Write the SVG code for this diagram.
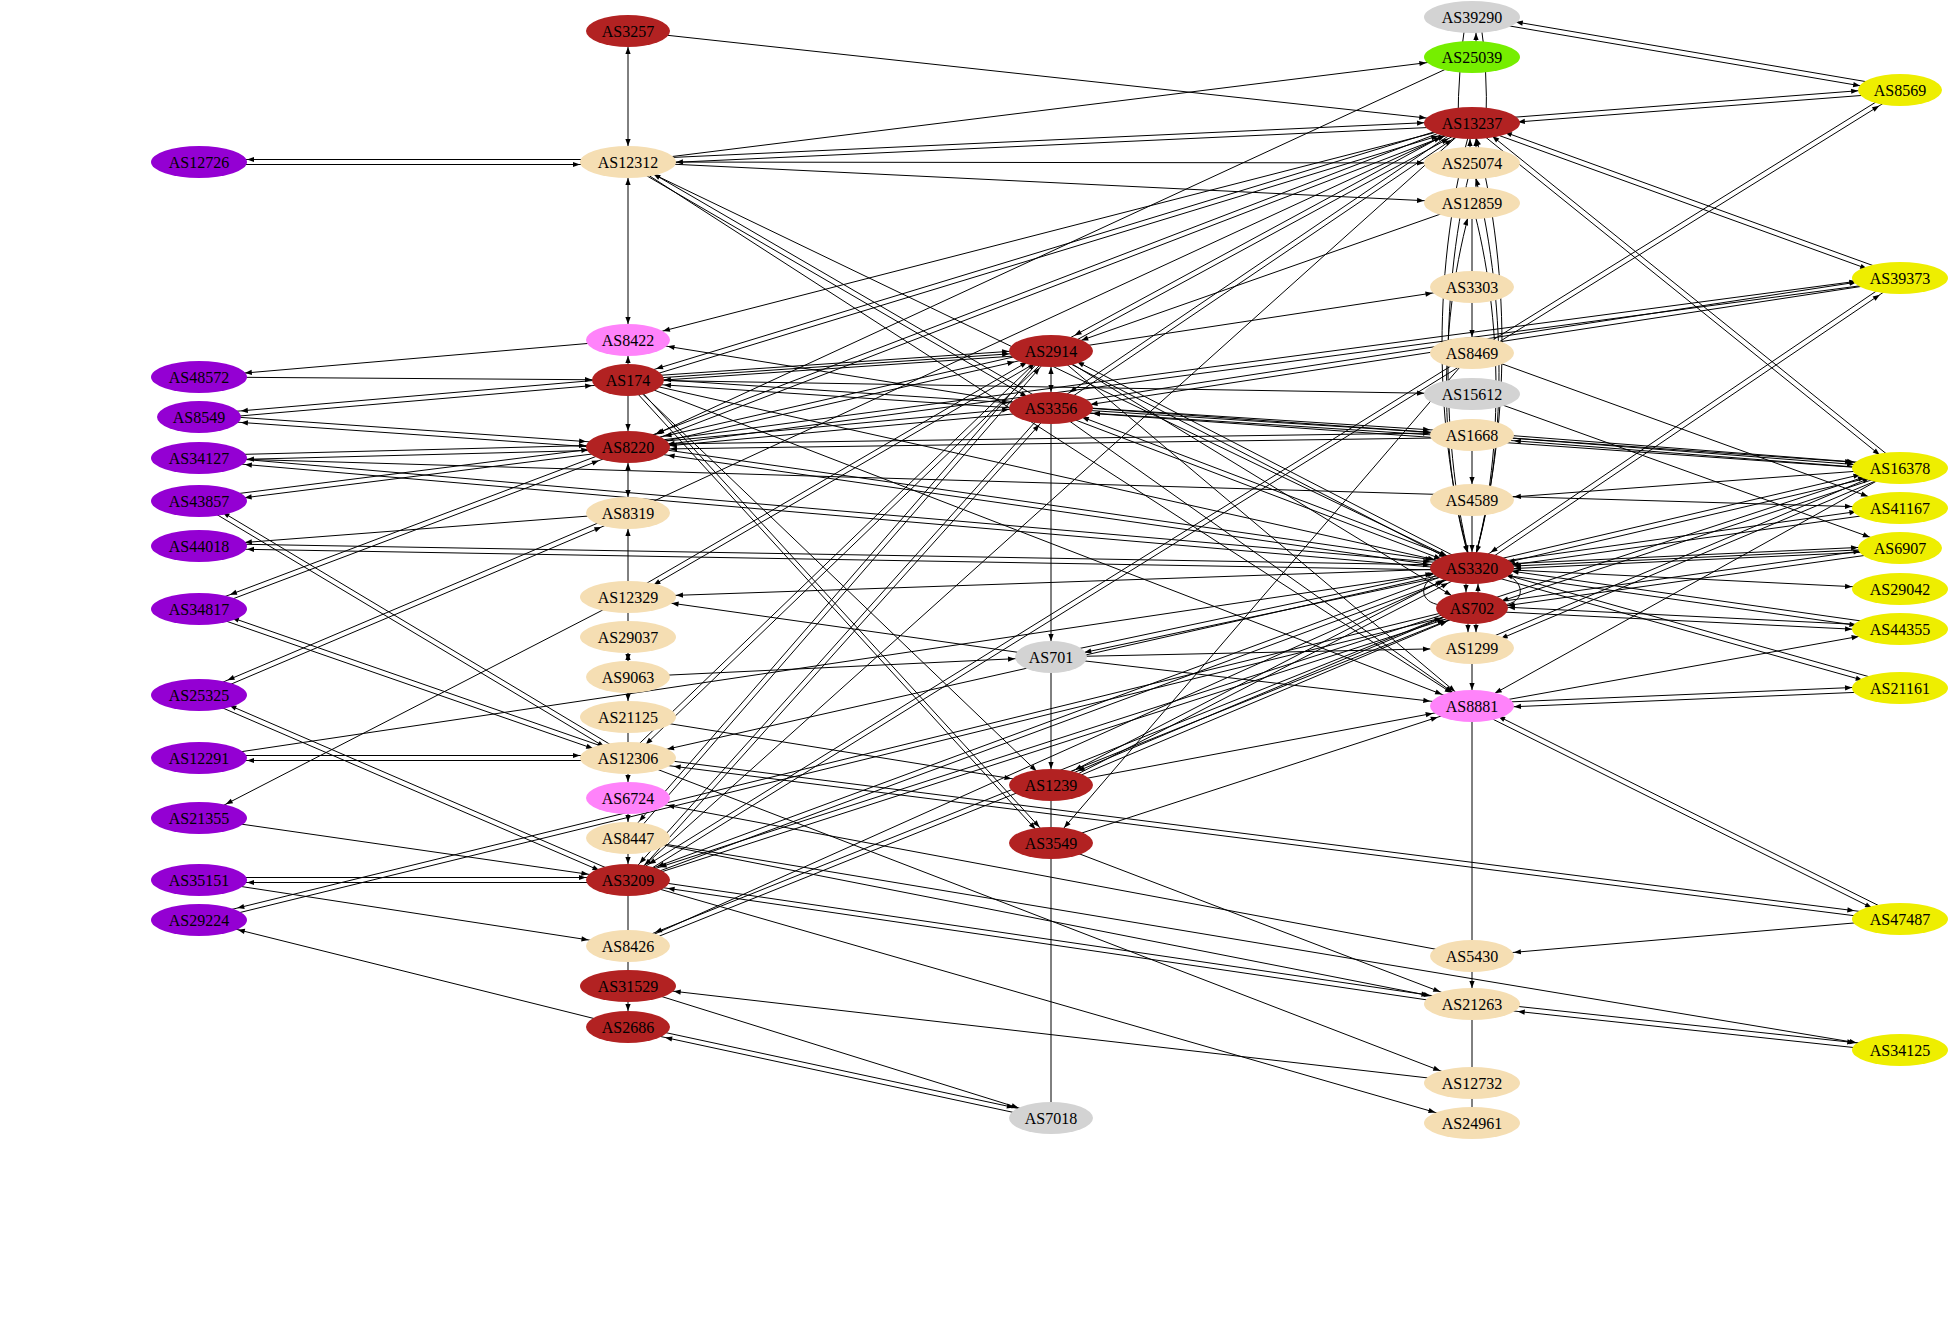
<svg xmlns="http://www.w3.org/2000/svg" width="1950" height="1317" viewBox="0 0 1950 1317">
<style>
.e{stroke:#000;stroke-width:1;fill:none}
.n text{font-family:"Liberation Serif","Times New Roman",serif;font-size:16px;text-anchor:middle;fill:#000}
.red{fill:#b22222}.wh{fill:#f5deb3}.gy{fill:#d3d3d3}.pu{fill:#9400d3}.ye{fill:#eeee00}.pk{fill:#ff83fa}.gr{fill:#76ee00}
</style>
<defs>
<marker id="m0" markerUnits="userSpaceOnUse" viewBox="0 0 60 10" refX="60" refY="5" markerWidth="60" markerHeight="10" orient="auto-start-reverse"><path d="M60,5 L53,2.4 L53,7.6 z"/></marker>
<marker id="m16" markerUnits="userSpaceOnUse" viewBox="0 0 60 10" refX="60" refY="5" markerWidth="60" markerHeight="10" orient="auto-start-reverse"><path d="M44,5 L37,2.4 L37,7.6 z"/></marker>
<marker id="m20" markerUnits="userSpaceOnUse" viewBox="0 0 60 10" refX="60" refY="5" markerWidth="60" markerHeight="10" orient="auto-start-reverse"><path d="M40,5 L33,2.4 L33,7.6 z"/></marker>
<marker id="m22" markerUnits="userSpaceOnUse" viewBox="0 0 60 10" refX="60" refY="5" markerWidth="60" markerHeight="10" orient="auto-start-reverse"><path d="M38,5 L31,2.4 L31,7.6 z"/></marker>
<marker id="m24" markerUnits="userSpaceOnUse" viewBox="0 0 60 10" refX="60" refY="5" markerWidth="60" markerHeight="10" orient="auto-start-reverse"><path d="M36,5 L29,2.4 L29,7.6 z"/></marker>
<marker id="m26" markerUnits="userSpaceOnUse" viewBox="0 0 60 10" refX="60" refY="5" markerWidth="60" markerHeight="10" orient="auto-start-reverse"><path d="M34,5 L27,2.4 L27,7.6 z"/></marker>
<marker id="m28" markerUnits="userSpaceOnUse" viewBox="0 0 60 10" refX="60" refY="5" markerWidth="60" markerHeight="10" orient="auto-start-reverse"><path d="M32,5 L25,2.4 L25,7.6 z"/></marker>
<marker id="m30" markerUnits="userSpaceOnUse" viewBox="0 0 60 10" refX="60" refY="5" markerWidth="60" markerHeight="10" orient="auto-start-reverse"><path d="M30,5 L23,2.4 L23,7.6 z"/></marker>
<marker id="m32" markerUnits="userSpaceOnUse" viewBox="0 0 60 10" refX="60" refY="5" markerWidth="60" markerHeight="10" orient="auto-start-reverse"><path d="M28,5 L21,2.4 L21,7.6 z"/></marker>
<marker id="m34" markerUnits="userSpaceOnUse" viewBox="0 0 60 10" refX="60" refY="5" markerWidth="60" markerHeight="10" orient="auto-start-reverse"><path d="M26,5 L19,2.4 L19,7.6 z"/></marker>
<marker id="m36" markerUnits="userSpaceOnUse" viewBox="0 0 60 10" refX="60" refY="5" markerWidth="60" markerHeight="10" orient="auto-start-reverse"><path d="M24,5 L17,2.4 L17,7.6 z"/></marker>
<marker id="m38" markerUnits="userSpaceOnUse" viewBox="0 0 60 10" refX="60" refY="5" markerWidth="60" markerHeight="10" orient="auto-start-reverse"><path d="M22,5 L15,2.4 L15,7.6 z"/></marker>
<marker id="m40" markerUnits="userSpaceOnUse" viewBox="0 0 60 10" refX="60" refY="5" markerWidth="60" markerHeight="10" orient="auto-start-reverse"><path d="M20,5 L13,2.4 L13,7.6 z"/></marker>
<marker id="m42" markerUnits="userSpaceOnUse" viewBox="0 0 60 10" refX="60" refY="5" markerWidth="60" markerHeight="10" orient="auto-start-reverse"><path d="M18,5 L11,2.4 L11,7.6 z"/></marker>
<marker id="m44" markerUnits="userSpaceOnUse" viewBox="0 0 60 10" refX="60" refY="5" markerWidth="60" markerHeight="10" orient="auto-start-reverse"><path d="M16,5 L9,2.4 L9,7.6 z"/></marker>
<marker id="m46" markerUnits="userSpaceOnUse" viewBox="0 0 60 10" refX="60" refY="5" markerWidth="60" markerHeight="10" orient="auto-start-reverse"><path d="M14,5 L7,2.4 L7,7.6 z"/></marker>
<marker id="m48" markerUnits="userSpaceOnUse" viewBox="0 0 60 10" refX="60" refY="5" markerWidth="60" markerHeight="10" orient="auto-start-reverse"><path d="M12,5 L5,2.4 L5,7.6 z"/></marker>
</defs>
<rect width="1950" height="1317" fill="#fff"/>
<g id="edges" class="e">
<line x1="628" y1="159.5" x2="199" y2="159.5" marker-end="url(#m48)"/>
<line x1="199" y1="164.5" x2="628" y2="164.5" marker-end="url(#m48)"/>
<line x1="628" y1="340" x2="199" y2="377" marker-end="url(#m46)"/>
<line x1="199" y1="377" x2="628" y2="380" marker-end="url(#m36)"/>
<line x1="628" y1="377.5" x2="199" y2="414.5" marker-end="url(#m42)"/>
<line x1="199" y1="419.5" x2="628" y2="382.5" marker-end="url(#m36)"/>
<line x1="199" y1="414.5" x2="628" y2="444.5" marker-end="url(#m42)"/>
<line x1="628" y1="449.5" x2="199" y2="419.5" marker-end="url(#m42)"/>
<line x1="199" y1="455.5" x2="628" y2="444.5" marker-end="url(#m42)"/>
<line x1="628" y1="449.5" x2="199" y2="460.5" marker-end="url(#m48)"/>
<line x1="199" y1="455.5" x2="1472" y2="565.5" marker-end="url(#m42)"/>
<line x1="1472" y1="570.5" x2="199" y2="460.5" marker-end="url(#m46)"/>
<line x1="199" y1="498.5" x2="628" y2="444.5" marker-end="url(#m40)"/>
<line x1="628" y1="449.5" x2="199" y2="503.5" marker-end="url(#m46)"/>
<line x1="197.7" y1="503.1" x2="626.7" y2="760.1" marker-end="url(#m26)"/>
<line x1="629.3" y1="755.9" x2="200.3" y2="498.9" marker-end="url(#m26)"/>
<line x1="628" y1="513" x2="199" y2="546" marker-end="url(#m46)"/>
<line x1="199" y1="543.5" x2="1472" y2="565.5" marker-end="url(#m42)"/>
<line x1="1472" y1="570.5" x2="199" y2="548.5" marker-end="url(#m48)"/>
<line x1="199.9" y1="611.3" x2="628.9" y2="449.3" marker-end="url(#m32)"/>
<line x1="627.1" y1="444.7" x2="198.1" y2="606.7" marker-end="url(#m34)"/>
<line x1="198.2" y1="611.4" x2="627.2" y2="760.4" marker-end="url(#m36)"/>
<line x1="628.8" y1="755.6" x2="199.8" y2="606.6" marker-end="url(#m34)"/>
<line x1="200" y1="697.3" x2="629" y2="515.3" marker-end="url(#m30)"/>
<line x1="627" y1="510.7" x2="198" y2="692.7" marker-end="url(#m32)"/>
<line x1="198" y1="697.3" x2="627" y2="882.3" marker-end="url(#m30)"/>
<line x1="629" y1="877.7" x2="200" y2="692.7" marker-end="url(#m32)"/>
<line x1="199" y1="755.5" x2="628" y2="755.5" marker-end="url(#m48)"/>
<line x1="628" y1="760.5" x2="199" y2="760.5" marker-end="url(#m48)"/>
<line x1="199" y1="758" x2="1472" y2="568" marker-end="url(#m40)"/>
<line x1="628" y1="597" x2="199" y2="818" marker-end="url(#m30)"/>
<line x1="199" y1="818" x2="628" y2="880" marker-end="url(#m40)"/>
<line x1="199" y1="877.5" x2="628" y2="877.5" marker-end="url(#m42)"/>
<line x1="628" y1="882.5" x2="199" y2="882.5" marker-end="url(#m48)"/>
<line x1="199" y1="880" x2="628" y2="946" marker-end="url(#m40)"/>
<line x1="199.6" y1="922.4" x2="1472.6" y2="610.4" marker-end="url(#m32)"/>
<line x1="1471.4" y1="605.6" x2="198.4" y2="917.6" marker-end="url(#m40)"/>
<line x1="628" y1="1027" x2="199" y2="920" marker-end="url(#m40)"/>
<line x1="628" y1="31" x2="628" y2="162" marker-start="url(#m16)" marker-end="url(#m16)"/>
<line x1="628" y1="162" x2="628" y2="340" marker-start="url(#m16)" marker-end="url(#m16)"/>
<line x1="628" y1="380" x2="628" y2="340" marker-end="url(#m16)"/>
<line x1="628" y1="380" x2="628" y2="447" marker-end="url(#m16)"/>
<line x1="628" y1="447" x2="628" y2="513" marker-start="url(#m16)" marker-end="url(#m16)"/>
<line x1="628" y1="597" x2="628" y2="513" marker-end="url(#m16)"/>
<line x1="628" y1="597" x2="628" y2="637"/>
<line x1="628" y1="637" x2="628" y2="677" marker-start="url(#m16)" marker-end="url(#m16)"/>
<line x1="628" y1="677" x2="628" y2="717" marker-end="url(#m16)"/>
<line x1="628" y1="717" x2="628" y2="758"/>
<line x1="628" y1="758" x2="628" y2="798" marker-end="url(#m16)"/>
<line x1="628" y1="798" x2="628" y2="838" marker-end="url(#m16)"/>
<line x1="628" y1="838" x2="628" y2="880" marker-end="url(#m16)"/>
<line x1="628" y1="880" x2="628" y2="986"/>
<line x1="628" y1="986" x2="628" y2="1027" marker-end="url(#m16)"/>
<line x1="628" y1="31" x2="1472" y2="123" marker-end="url(#m46)"/>
<line x1="628" y1="162" x2="1472" y2="57" marker-end="url(#m46)"/>
<line x1="628" y1="159.5" x2="1472" y2="120.5" marker-end="url(#m48)"/>
<line x1="1472" y1="125.5" x2="628" y2="164.5" marker-end="url(#m48)"/>
<line x1="628" y1="162" x2="1472" y2="163" marker-end="url(#m48)"/>
<line x1="628" y1="162" x2="1472" y2="203" marker-end="url(#m48)"/>
<line x1="626.75" y1="164.15" x2="1049.75" y2="410.15" marker-end="url(#m26)"/>
<line x1="1052.25" y1="405.85" x2="629.25" y2="159.85" marker-end="url(#m28)"/>
<line x1="628" y1="162" x2="1472" y2="568" marker-end="url(#m28)"/>
<line x1="628" y1="162" x2="1472" y2="706" marker-end="url(#m24)"/>
<line x1="1472" y1="123" x2="628" y2="340" marker-end="url(#m36)"/>
<line x1="1051" y1="408" x2="628" y2="340" marker-end="url(#m40)"/>
<line x1="628" y1="377.5" x2="1051" y2="348.5" marker-end="url(#m42)"/>
<line x1="1051" y1="353.5" x2="628" y2="382.5" marker-end="url(#m36)"/>
<line x1="628" y1="380" x2="1051" y2="351" marker-end="url(#m42)"/>
<line x1="628.7" y1="382.4" x2="1472.7" y2="125.4" marker-end="url(#m36)"/>
<line x1="1471.3" y1="120.6" x2="627.3" y2="377.6" marker-end="url(#m30)"/>
<line x1="628" y1="380" x2="1472" y2="394" marker-end="url(#m48)"/>
<line x1="628" y1="377.5" x2="1051" y2="405.5" marker-end="url(#m42)"/>
<line x1="1051" y1="410.5" x2="628" y2="382.5" marker-end="url(#m36)"/>
<line x1="628" y1="380" x2="1051" y2="785" marker-end="url(#m20)"/>
<line x1="626" y1="381" x2="1049" y2="844" marker-end="url(#m20)"/>
<line x1="630" y1="379" x2="1053" y2="842" marker-end="url(#m20)"/>
<line x1="628" y1="380" x2="1472" y2="568" marker-end="url(#m38)"/>
<line x1="628" y1="380" x2="1472" y2="706" marker-end="url(#m32)"/>
<line x1="628.55" y1="449.45" x2="1051.55" y2="353.45" marker-end="url(#m38)"/>
<line x1="1050.45" y1="348.55" x2="627.45" y2="444.55" marker-end="url(#m38)"/>
<line x1="628" y1="444.5" x2="1051" y2="405.5" marker-end="url(#m42)"/>
<line x1="1051" y1="410.5" x2="628" y2="449.5" marker-end="url(#m42)"/>
<line x1="628.9" y1="449.3" x2="1472.9" y2="125.3" marker-end="url(#m34)"/>
<line x1="1471.1" y1="120.7" x2="627.1" y2="444.7" marker-end="url(#m32)"/>
<line x1="628" y1="444.5" x2="1472" y2="432.5" marker-end="url(#m42)"/>
<line x1="1472" y1="437.5" x2="628" y2="449.5" marker-end="url(#m42)"/>
<line x1="628" y1="444.5" x2="1472" y2="565.5" marker-end="url(#m40)"/>
<line x1="1472" y1="570.5" x2="628" y2="449.5" marker-end="url(#m40)"/>
<line x1="628" y1="444.5" x2="1900" y2="275.5" marker-end="url(#m44)"/>
<line x1="1900" y1="280.5" x2="628" y2="449.5" marker-end="url(#m40)"/>
<line x1="1472" y1="57" x2="628" y2="447" marker-end="url(#m30)"/>
<line x1="199" y1="458" x2="1900" y2="508" marker-end="url(#m48)"/>
<line x1="628" y1="513" x2="1472" y2="123" marker-end="url(#m30)"/>
<line x1="1052.25" y1="353.15" x2="629.25" y2="599.15" marker-end="url(#m28)"/>
<line x1="626.75" y1="594.85" x2="1049.75" y2="348.85" marker-end="url(#m26)"/>
<line x1="1472" y1="568" x2="628" y2="597" marker-end="url(#m48)"/>
<line x1="1051" y1="657" x2="628" y2="597" marker-end="url(#m44)"/>
<line x1="628" y1="677" x2="1051" y2="657" marker-end="url(#m36)"/>
<line x1="628" y1="717" x2="1051" y2="785" marker-end="url(#m40)"/>
<line x1="1052.8" y1="352.75" x2="629.8" y2="759.75" marker-end="url(#m22)"/>
<line x1="626.2" y1="756.25" x2="1049.2" y2="349.25" marker-end="url(#m20)"/>
<line x1="1472" y1="568" x2="628" y2="758" marker-end="url(#m40)"/>
<line x1="628" y1="755.5" x2="1900" y2="916.5" marker-end="url(#m46)"/>
<line x1="1900" y1="921.5" x2="628" y2="760.5" marker-end="url(#m46)"/>
<line x1="628" y1="758" x2="1472" y2="1083" marker-end="url(#m34)"/>
<line x1="1472" y1="956" x2="628" y2="798" marker-end="url(#m40)"/>
<line x1="629.9" y1="839.65" x2="1052.9" y2="352.65" marker-end="url(#m20)"/>
<line x1="1049.1" y1="349.35" x2="626.1" y2="836.35" marker-end="url(#m20)"/>
<line x1="628" y1="838" x2="1472" y2="1004" marker-end="url(#m42)"/>
<line x1="628" y1="838" x2="1900" y2="1050" marker-end="url(#m44)"/>
<line x1="629.85" y1="881.65" x2="1052.85" y2="409.65" marker-end="url(#m20)"/>
<line x1="1049.15" y1="406.35" x2="626.15" y2="878.35" marker-end="url(#m20)"/>
<line x1="1472" y1="123" x2="628" y2="880" marker-end="url(#m22)"/>
<line x1="629.3" y1="882.1" x2="1901.3" y2="92.1" marker-end="url(#m26)"/>
<line x1="1898.7" y1="87.9" x2="626.7" y2="877.9" marker-end="url(#m26)"/>
<line x1="628.9" y1="882.35" x2="1472.9" y2="570.35" marker-end="url(#m32)"/>
<line x1="1471.1" y1="565.65" x2="627.1" y2="877.65" marker-end="url(#m32)"/>
<line x1="628.8" y1="882.4" x2="1472.8" y2="610.4" marker-end="url(#m30)"/>
<line x1="1471.2" y1="605.6" x2="627.2" y2="877.6" marker-end="url(#m34)"/>
<line x1="628" y1="877.5" x2="1472" y2="1001.5" marker-end="url(#m44)"/>
<line x1="1472" y1="1006.5" x2="628" y2="882.5" marker-end="url(#m40)"/>
<line x1="628" y1="880" x2="1472" y2="1123" marker-end="url(#m38)"/>
<line x1="628.9" y1="948.3" x2="1472.9" y2="610.3" marker-end="url(#m28)"/>
<line x1="1471.1" y1="605.7" x2="627.1" y2="943.7" marker-end="url(#m30)"/>
<line x1="628" y1="946" x2="1472" y2="568" marker-end="url(#m30)"/>
<line x1="1472" y1="1083" x2="628" y2="986" marker-end="url(#m46)"/>
<line x1="628" y1="986" x2="1051" y2="1118" marker-end="url(#m34)"/>
<line x1="628" y1="1024.5" x2="1051" y2="1115.5" marker-end="url(#m38)"/>
<line x1="1051" y1="1120.5" x2="628" y2="1029.5" marker-end="url(#m38)"/>
<line x1="1051" y1="351" x2="1051" y2="408" marker-start="url(#m16)" marker-end="url(#m16)"/>
<line x1="1051" y1="408" x2="1051" y2="657" marker-end="url(#m16)"/>
<line x1="1051" y1="657" x2="1051" y2="785" marker-end="url(#m16)"/>
<line x1="1051" y1="785" x2="1051" y2="1118"/>
<line x1="1051" y1="351" x2="1472" y2="287" marker-end="url(#m40)"/>
<line x1="1472" y1="203" x2="1051" y2="351" marker-end="url(#m32)"/>
<line x1="1052.1" y1="353.25" x2="1473.1" y2="125.25" marker-end="url(#m28)"/>
<line x1="1470.9" y1="120.75" x2="1049.9" y2="348.75" marker-end="url(#m28)"/>
<line x1="1049.85" y1="353.2" x2="1470.85" y2="570.2" marker-end="url(#m28)"/>
<line x1="1473.15" y1="565.8" x2="1052.15" y2="348.8" marker-end="url(#m28)"/>
<line x1="1051" y1="351" x2="1472" y2="608" marker-end="url(#m24)"/>
<line x1="1051" y1="351" x2="1472" y2="706" marker-end="url(#m22)"/>
<line x1="1052.4" y1="410.05" x2="1473.4" y2="125.05" marker-end="url(#m26)"/>
<line x1="1470.6" y1="120.95" x2="1049.6" y2="405.95" marker-end="url(#m24)"/>
<line x1="1051" y1="405.5" x2="1472" y2="432.5" marker-end="url(#m42)"/>
<line x1="1472" y1="437.5" x2="1051" y2="410.5" marker-end="url(#m42)"/>
<line x1="1051" y1="408" x2="1472" y2="435" marker-end="url(#m42)"/>
<line x1="1051" y1="405.5" x2="1900" y2="275.5" marker-end="url(#m44)"/>
<line x1="1900" y1="280.5" x2="1051" y2="410.5" marker-end="url(#m40)"/>
<line x1="1050.1" y1="410.35" x2="1471.1" y2="570.35" marker-end="url(#m32)"/>
<line x1="1472.9" y1="565.65" x2="1051.9" y2="405.65" marker-end="url(#m32)"/>
<line x1="1051" y1="408" x2="1472" y2="706" marker-end="url(#m24)"/>
<line x1="1051" y1="405.5" x2="1900" y2="465.5" marker-end="url(#m48)"/>
<line x1="1900" y1="470.5" x2="1051" y2="410.5" marker-end="url(#m42)"/>
<line x1="1051" y1="654.5" x2="1472" y2="565.5" marker-end="url(#m38)"/>
<line x1="1472" y1="570.5" x2="1051" y2="659.5" marker-end="url(#m34)"/>
<line x1="1051" y1="657" x2="1472" y2="648" marker-end="url(#m42)"/>
<line x1="1051" y1="657" x2="1472" y2="706" marker-end="url(#m42)"/>
<line x1="1052.15" y1="787.2" x2="1473.15" y2="570.2" marker-end="url(#m28)"/>
<line x1="1470.85" y1="565.8" x2="1049.85" y2="782.8" marker-end="url(#m28)"/>
<line x1="1051" y1="785" x2="1472" y2="706" marker-end="url(#m40)"/>
<line x1="1051.95" y1="787.3" x2="1472.95" y2="610.3" marker-end="url(#m28)"/>
<line x1="1471.05" y1="605.7" x2="1050.05" y2="782.7" marker-end="url(#m30)"/>
<line x1="1051" y1="843" x2="1472" y2="1004" marker-end="url(#m34)"/>
<line x1="1472" y1="353" x2="1051" y2="843" marker-end="url(#m20)"/>
<line x1="1051" y1="843" x2="1472" y2="706" marker-end="url(#m36)"/>
<line x1="1476" y1="57" x2="1476" y2="17" marker-end="url(#m16)"/>
<path d="M1466,17 Q1458,70 1458,123"/>
<path d="M1480,17 Q1488,70 1486,123"/>
<line x1="1470" y1="163" x2="1470" y2="123" marker-end="url(#m16)"/>
<line x1="1476" y1="203" x2="1476" y2="123" marker-end="url(#m16)"/>
<path d="M1472,123 C1432,260 1432,430 1472,568" marker-end="url(#m16)"/>
<path d="M1472,568 C1512,430 1512,260 1472,123" marker-end="url(#m16)"/>
<path d="M1472,163 C1440,280 1440,450 1472,568" marker-end="url(#m16)"/>
<path d="M1472,203 C1504,320 1504,460 1472,568" marker-end="url(#m16)"/>
<path d="M1472,568 C1508,450 1508,300 1472,163" marker-end="url(#m16)"/>
<path d="M1472,568 C1438,460 1438,320 1472,203" marker-end="url(#m16)"/>
<line x1="1472" y1="203" x2="1472" y2="353" marker-end="url(#m16)"/>
<line x1="1472" y1="435" x2="1472" y2="500" marker-end="url(#m16)"/>
<line x1="1472" y1="500" x2="1472" y2="568" marker-end="url(#m16)"/>
<line x1="1466" y1="568" x2="1466" y2="608" marker-end="url(#m16)"/>
<line x1="1478" y1="608" x2="1478" y2="568" marker-end="url(#m16)"/>
<path d="M1436,575 C1418,585 1420,602 1440,605"/>
<path d="M1508,575 C1526,585 1524,602 1504,605"/>
<line x1="1468" y1="608" x2="1468" y2="648" marker-end="url(#m16)"/>
<line x1="1476" y1="608" x2="1476" y2="648" marker-end="url(#m16)"/>
<line x1="1472" y1="648" x2="1472" y2="706" marker-end="url(#m16)"/>
<line x1="1472" y1="706" x2="1472" y2="956"/>
<line x1="1472" y1="956" x2="1472" y2="1004" marker-end="url(#m16)"/>
<line x1="1472" y1="1004" x2="1472" y2="1123"/>
<line x1="1471.6" y1="19.5" x2="1899.6" y2="92.5" marker-end="url(#m40)"/>
<line x1="1900.4" y1="87.5" x2="1472.4" y2="14.5" marker-end="url(#m44)"/>
<line x1="1472" y1="120.5" x2="1900" y2="87.5" marker-end="url(#m42)"/>
<line x1="1900" y1="92.5" x2="1472" y2="125.5" marker-end="url(#m46)"/>
<line x1="1471.15" y1="125.35" x2="1899.15" y2="280.35" marker-end="url(#m34)"/>
<line x1="1900.85" y1="275.65" x2="1472.85" y2="120.65" marker-end="url(#m34)"/>
<line x1="1470.45" y1="124.95" x2="1898.45" y2="469.95" marker-end="url(#m24)"/>
<line x1="1901.55" y1="466.05" x2="1473.55" y2="121.05" marker-end="url(#m24)"/>
<line x1="1473.4" y1="570.05" x2="1901.4" y2="280.05" marker-end="url(#m26)"/>
<line x1="1898.6" y1="275.95" x2="1470.6" y2="565.95" marker-end="url(#m24)"/>
<line x1="1900.95" y1="470.3" x2="1472.95" y2="650.3" marker-end="url(#m30)"/>
<line x1="1471.05" y1="645.7" x2="1899.05" y2="465.7" marker-end="url(#m32)"/>
<line x1="1472" y1="353" x2="1900" y2="508" marker-end="url(#m34)"/>
<line x1="1472" y1="394" x2="1900" y2="548" marker-end="url(#m32)"/>
<line x1="1472" y1="432.5" x2="1900" y2="465.5" marker-end="url(#m46)"/>
<line x1="1900" y1="470.5" x2="1472" y2="437.5" marker-end="url(#m42)"/>
<line x1="1472" y1="435" x2="1900" y2="468" marker-end="url(#m46)"/>
<line x1="1900" y1="468" x2="1472" y2="500" marker-end="url(#m42)"/>
<line x1="1900.6" y1="470.45" x2="1472.6" y2="570.45" marker-end="url(#m36)"/>
<line x1="1471.4" y1="565.55" x2="1899.4" y2="465.55" marker-end="url(#m40)"/>
<line x1="1900.8" y1="470.4" x2="1472.8" y2="610.4" marker-end="url(#m30)"/>
<line x1="1471.2" y1="605.6" x2="1899.2" y2="465.6" marker-end="url(#m36)"/>
<line x1="1900" y1="468" x2="1472" y2="706" marker-end="url(#m26)"/>
<line x1="1900" y1="510.5" x2="1472" y2="570.5" marker-end="url(#m40)"/>
<line x1="1472" y1="565.5" x2="1900" y2="505.5" marker-end="url(#m44)"/>
<line x1="1900" y1="550.5" x2="1472" y2="570.5" marker-end="url(#m42)"/>
<line x1="1472" y1="565.5" x2="1900" y2="545.5" marker-end="url(#m42)"/>
<line x1="1900" y1="548" x2="1472" y2="568" marker-end="url(#m42)"/>
<line x1="1472" y1="568" x2="1900" y2="589" marker-end="url(#m48)"/>
<line x1="1900" y1="626.5" x2="1472" y2="565.5" marker-end="url(#m40)"/>
<line x1="1472" y1="570.5" x2="1900" y2="631.5" marker-end="url(#m44)"/>
<line x1="1900" y1="626.5" x2="1472" y2="605.5" marker-end="url(#m36)"/>
<line x1="1472" y1="610.5" x2="1900" y2="631.5" marker-end="url(#m48)"/>
<line x1="1471.3" y1="570.4" x2="1899.3" y2="690.4" marker-end="url(#m38)"/>
<line x1="1900.7" y1="685.6" x2="1472.7" y2="565.6" marker-end="url(#m34)"/>
<line x1="1472" y1="605.5" x2="1900" y2="545.5" marker-end="url(#m40)"/>
<line x1="1900" y1="550.5" x2="1472" y2="610.5" marker-end="url(#m36)"/>
<line x1="1472" y1="703.5" x2="1900" y2="685.5" marker-end="url(#m48)"/>
<line x1="1900" y1="690.5" x2="1472" y2="708.5" marker-end="url(#m42)"/>
<line x1="1472" y1="706" x2="1900" y2="629" marker-end="url(#m42)"/>
<line x1="1470.9" y1="708.25" x2="1898.9" y2="921.25" marker-end="url(#m30)"/>
<line x1="1901.1" y1="916.75" x2="1473.1" y2="703.75" marker-end="url(#m28)"/>
<line x1="1900" y1="919" x2="1472" y2="956" marker-end="url(#m42)"/>
<line x1="1472" y1="1001.5" x2="1900" y2="1047.5" marker-end="url(#m46)"/>
<line x1="1900" y1="1052.5" x2="1472" y2="1006.5" marker-end="url(#m46)"/>
</g>
<g class="n">
<g id="AS12726"><ellipse class="pu" cx="199" cy="162" rx="48" ry="16"/><text x="199" y="167.5">AS12726</text></g>
<g id="AS48572"><ellipse class="pu" cx="199" cy="377" rx="48" ry="16"/><text x="199" y="382.5">AS48572</text></g>
<g id="AS8549"><ellipse class="pu" cx="199" cy="417" rx="42" ry="16"/><text x="199" y="422.5">AS8549</text></g>
<g id="AS34127"><ellipse class="pu" cx="199" cy="458" rx="48" ry="16"/><text x="199" y="463.5">AS34127</text></g>
<g id="AS43857"><ellipse class="pu" cx="199" cy="501" rx="48" ry="16"/><text x="199" y="506.5">AS43857</text></g>
<g id="AS44018"><ellipse class="pu" cx="199" cy="546" rx="48" ry="16"/><text x="199" y="551.5">AS44018</text></g>
<g id="AS34817"><ellipse class="pu" cx="199" cy="609" rx="48" ry="16"/><text x="199" y="614.5">AS34817</text></g>
<g id="AS25325"><ellipse class="pu" cx="199" cy="695" rx="48" ry="16"/><text x="199" y="700.5">AS25325</text></g>
<g id="AS12291"><ellipse class="pu" cx="199" cy="758" rx="48" ry="16"/><text x="199" y="763.5">AS12291</text></g>
<g id="AS21355"><ellipse class="pu" cx="199" cy="818" rx="48" ry="16"/><text x="199" y="823.5">AS21355</text></g>
<g id="AS35151"><ellipse class="pu" cx="199" cy="880" rx="48" ry="16"/><text x="199" y="885.5">AS35151</text></g>
<g id="AS29224"><ellipse class="pu" cx="199" cy="920" rx="48" ry="16"/><text x="199" y="925.5">AS29224</text></g>
<g id="AS3257"><ellipse class="red" cx="628" cy="31" rx="42" ry="16"/><text x="628" y="36.5">AS3257</text></g>
<g id="AS12312"><ellipse class="wh" cx="628" cy="162" rx="48" ry="16"/><text x="628" y="167.5">AS12312</text></g>
<g id="AS8422"><ellipse class="pk" cx="628" cy="340" rx="42" ry="16"/><text x="628" y="345.5">AS8422</text></g>
<g id="AS174"><ellipse class="red" cx="628" cy="380" rx="36" ry="16"/><text x="628" y="385.5">AS174</text></g>
<g id="AS8220"><ellipse class="red" cx="628" cy="447" rx="42" ry="16"/><text x="628" y="452.5">AS8220</text></g>
<g id="AS8319"><ellipse class="wh" cx="628" cy="513" rx="42" ry="16"/><text x="628" y="518.5">AS8319</text></g>
<g id="AS12329"><ellipse class="wh" cx="628" cy="597" rx="48" ry="16"/><text x="628" y="602.5">AS12329</text></g>
<g id="AS29037"><ellipse class="wh" cx="628" cy="637" rx="48" ry="16"/><text x="628" y="642.5">AS29037</text></g>
<g id="AS9063"><ellipse class="wh" cx="628" cy="677" rx="42" ry="16"/><text x="628" y="682.5">AS9063</text></g>
<g id="AS21125"><ellipse class="wh" cx="628" cy="717" rx="48" ry="16"/><text x="628" y="722.5">AS21125</text></g>
<g id="AS12306"><ellipse class="wh" cx="628" cy="758" rx="48" ry="16"/><text x="628" y="763.5">AS12306</text></g>
<g id="AS6724"><ellipse class="pk" cx="628" cy="798" rx="42" ry="16"/><text x="628" y="803.5">AS6724</text></g>
<g id="AS8447"><ellipse class="wh" cx="628" cy="838" rx="42" ry="16"/><text x="628" y="843.5">AS8447</text></g>
<g id="AS3209"><ellipse class="red" cx="628" cy="880" rx="42" ry="16"/><text x="628" y="885.5">AS3209</text></g>
<g id="AS8426"><ellipse class="wh" cx="628" cy="946" rx="42" ry="16"/><text x="628" y="951.5">AS8426</text></g>
<g id="AS31529"><ellipse class="red" cx="628" cy="986" rx="48" ry="16"/><text x="628" y="991.5">AS31529</text></g>
<g id="AS2686"><ellipse class="red" cx="628" cy="1027" rx="42" ry="16"/><text x="628" y="1032.5">AS2686</text></g>
<g id="AS2914"><ellipse class="red" cx="1051" cy="351" rx="42" ry="16"/><text x="1051" y="356.5">AS2914</text></g>
<g id="AS3356"><ellipse class="red" cx="1051" cy="408" rx="42" ry="16"/><text x="1051" y="413.5">AS3356</text></g>
<g id="AS701"><ellipse class="gy" cx="1051" cy="657" rx="36" ry="16"/><text x="1051" y="662.5">AS701</text></g>
<g id="AS1239"><ellipse class="red" cx="1051" cy="785" rx="42" ry="16"/><text x="1051" y="790.5">AS1239</text></g>
<g id="AS3549"><ellipse class="red" cx="1051" cy="843" rx="42" ry="16"/><text x="1051" y="848.5">AS3549</text></g>
<g id="AS7018"><ellipse class="gy" cx="1051" cy="1118" rx="42" ry="16"/><text x="1051" y="1123.5">AS7018</text></g>
<g id="AS39290"><ellipse class="gy" cx="1472" cy="17" rx="48" ry="16"/><text x="1472" y="22.5">AS39290</text></g>
<g id="AS25039"><ellipse class="gr" cx="1472" cy="57" rx="48" ry="16"/><text x="1472" y="62.5">AS25039</text></g>
<g id="AS13237"><ellipse class="red" cx="1472" cy="123" rx="48" ry="16"/><text x="1472" y="128.5">AS13237</text></g>
<g id="AS25074"><ellipse class="wh" cx="1472" cy="163" rx="48" ry="16"/><text x="1472" y="168.5">AS25074</text></g>
<g id="AS12859"><ellipse class="wh" cx="1472" cy="203" rx="48" ry="16"/><text x="1472" y="208.5">AS12859</text></g>
<g id="AS3303"><ellipse class="wh" cx="1472" cy="287" rx="42" ry="16"/><text x="1472" y="292.5">AS3303</text></g>
<g id="AS8469"><ellipse class="wh" cx="1472" cy="353" rx="42" ry="16"/><text x="1472" y="358.5">AS8469</text></g>
<g id="AS15612"><ellipse class="gy" cx="1472" cy="394" rx="48" ry="16"/><text x="1472" y="399.5">AS15612</text></g>
<g id="AS1668"><ellipse class="wh" cx="1472" cy="435" rx="42" ry="16"/><text x="1472" y="440.5">AS1668</text></g>
<g id="AS4589"><ellipse class="wh" cx="1472" cy="500" rx="42" ry="16"/><text x="1472" y="505.5">AS4589</text></g>
<g id="AS3320"><ellipse class="red" cx="1472" cy="568" rx="42" ry="16"/><text x="1472" y="573.5">AS3320</text></g>
<g id="AS702"><ellipse class="red" cx="1472" cy="608" rx="36" ry="16"/><text x="1472" y="613.5">AS702</text></g>
<g id="AS1299"><ellipse class="wh" cx="1472" cy="648" rx="42" ry="16"/><text x="1472" y="653.5">AS1299</text></g>
<g id="AS8881"><ellipse class="pk" cx="1472" cy="706" rx="42" ry="16"/><text x="1472" y="711.5">AS8881</text></g>
<g id="AS5430"><ellipse class="wh" cx="1472" cy="956" rx="42" ry="16"/><text x="1472" y="961.5">AS5430</text></g>
<g id="AS21263"><ellipse class="wh" cx="1472" cy="1004" rx="48" ry="16"/><text x="1472" y="1009.5">AS21263</text></g>
<g id="AS12732"><ellipse class="wh" cx="1472" cy="1083" rx="48" ry="16"/><text x="1472" y="1088.5">AS12732</text></g>
<g id="AS24961"><ellipse class="wh" cx="1472" cy="1123" rx="48" ry="16"/><text x="1472" y="1128.5">AS24961</text></g>
<g id="AS8569"><ellipse class="ye" cx="1900" cy="90" rx="42" ry="16"/><text x="1900" y="95.5">AS8569</text></g>
<g id="AS39373"><ellipse class="ye" cx="1900" cy="278" rx="48" ry="16"/><text x="1900" y="283.5">AS39373</text></g>
<g id="AS16378"><ellipse class="ye" cx="1900" cy="468" rx="48" ry="16"/><text x="1900" y="473.5">AS16378</text></g>
<g id="AS41167"><ellipse class="ye" cx="1900" cy="508" rx="48" ry="16"/><text x="1900" y="513.5">AS41167</text></g>
<g id="AS6907"><ellipse class="ye" cx="1900" cy="548" rx="42" ry="16"/><text x="1900" y="553.5">AS6907</text></g>
<g id="AS29042"><ellipse class="ye" cx="1900" cy="589" rx="48" ry="16"/><text x="1900" y="594.5">AS29042</text></g>
<g id="AS44355"><ellipse class="ye" cx="1900" cy="629" rx="48" ry="16"/><text x="1900" y="634.5">AS44355</text></g>
<g id="AS21161"><ellipse class="ye" cx="1900" cy="688" rx="48" ry="16"/><text x="1900" y="693.5">AS21161</text></g>
<g id="AS47487"><ellipse class="ye" cx="1900" cy="919" rx="48" ry="16"/><text x="1900" y="924.5">AS47487</text></g>
<g id="AS34125"><ellipse class="ye" cx="1900" cy="1050" rx="48" ry="16"/><text x="1900" y="1055.5">AS34125</text></g>
</g>
</svg>
